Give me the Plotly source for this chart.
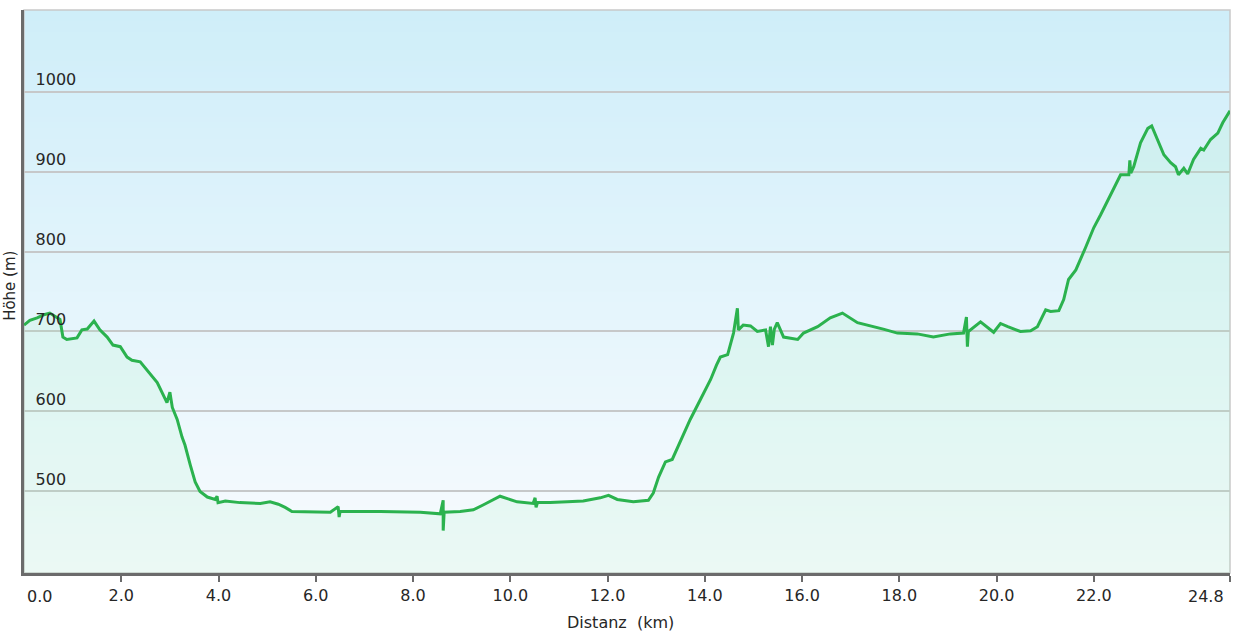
import plotly.graph_objects as go

distance_km = [
    0.00, 0.12, 0.27, 0.41, 0.53, 0.68, 0.74, 0.80, 0.88, 1.09, 1.19, 1.30, 1.44, 1.56,
    1.71, 1.83, 1.98, 2.12, 2.22, 2.39, 2.53, 2.74, 2.94, 3.00, 3.05, 3.15, 3.25, 3.31,
    3.42, 3.52, 3.62, 3.77, 3.93, 3.97, 3.99, 4.14, 4.44, 4.86, 5.06, 5.23, 5.37, 5.51,
    6.30, 6.46, 6.48, 6.50, 7.33, 8.15, 8.56, 8.62, 8.62, 8.64, 8.97, 9.24, 9.44, 9.79,
    10.14, 10.47, 10.51, 10.53, 10.56, 10.82, 11.17, 11.50, 11.85, 12.02, 12.20, 12.53,
    12.84, 12.94, 13.05, 13.19, 13.33, 13.50, 13.70, 13.91, 14.12, 14.24, 14.32, 14.47,
    14.59, 14.67, 14.69, 14.79, 14.94, 15.08, 15.25, 15.31, 15.35, 15.39, 15.43, 15.49,
    15.62, 15.91, 16.03, 16.32, 16.58, 16.83, 17.14, 17.67, 17.96, 18.37, 18.70, 19.05,
    19.32, 19.38, 19.40, 19.42, 19.67, 19.94, 20.08, 20.23, 20.49, 20.70, 20.84, 21.01,
    21.11, 21.28, 21.38, 21.48, 21.63, 21.83, 22.00, 22.14, 22.30, 22.45, 22.55, 22.72,
    22.74, 22.76, 22.82, 22.96, 23.11, 23.19, 23.31, 23.44, 23.58, 23.68, 23.74, 23.85,
    23.93, 24.05, 24.20, 24.26, 24.40, 24.55, 24.65, 24.77, 24.80,
]
elevation_m = [
    708, 714, 717, 721, 723, 717, 715, 693, 690, 692, 702, 703, 713, 702,
    693, 683, 681, 668, 664, 662, 652, 636, 611, 624, 605, 590, 568, 558,
    533, 512, 500, 493, 490, 494, 486, 488, 486, 485, 487, 484, 480, 475,
    474, 481, 468, 475, 475, 474, 472, 489, 451, 474, 475, 477, 483, 494,
    487, 485, 492, 480, 486, 486, 487, 488, 492, 495, 490, 487,
    489, 498, 518, 537, 540, 564, 590, 615, 640, 658, 668, 671,
    698, 729, 702, 708, 707, 700, 702, 681, 706, 683, 703, 711,
    693, 690, 698, 706, 717, 723, 711, 703, 698, 697, 693, 697,
    698, 718, 681, 700, 712, 699, 710, 706, 700, 701, 706, 727,
    725, 726, 740, 765, 777, 805, 830, 846, 865, 883, 896, 896,
    914, 898, 906, 936, 954, 957, 940, 921, 911, 906, 896, 904,
    897, 915, 929, 927, 940, 948, 961, 974, 976,
]

x_tick_vals = [0, 2, 4, 6, 8, 10, 12, 14, 16, 18, 20, 22, 24.8]
x_tick_text = ["", "2.0", "4.0", "6.0", "8.0", "10.0", "12.0", "14.0", "16.0",
               "18.0", "20.0", "22.0", ""]
y_tick_vals = [500, 600, 700, 800, 900, 1000]
x_range = [0, 24.8]
y_range = [398, 1102]

FONT = "DejaVu Sans, Verdana, sans-serif"
TXT = "#262626"

fig = go.Figure()
fig.add_trace(go.Scatter(
    x=distance_km, y=elevation_m, mode="lines",
    line=dict(color="#2bb24e", width=3),
    fill="tozeroy", fillcolor="rgba(150,240,175,0.13)",
    hoverinfo="x+y", showlegend=False,
))

# vertical background gradient (light blue -> near white)
shapes = []
n = 100
top = (207, 238, 249)
bot = (248, 251, 254)
for i in range(n):
    t = i / (n - 1)
    c = tuple(round(top[k] + (bot[k] - top[k]) * t) for k in range(3))
    shapes.append(dict(type="rect", xref="paper", yref="paper",
                       x0=0, x1=1, y0=max(0, 1 - (i + 1.8) / n), y1=1 - i / n,
                       fillcolor="rgb(%d,%d,%d)" % c, line=dict(width=0),
                       layer="below"))
shapes.append(dict(type="rect", xref="paper", yref="paper", x0=0, x1=1, y0=0, y1=1,
                   line=dict(color="#c9c9c9", width=1.5), fillcolor="rgba(0,0,0,0)",
                   layer="below"))

fig.update_layout(
    width=1239, height=635,
    margin=dict(l=24, r=9, t=10, b=62),
    paper_bgcolor="white", plot_bgcolor="rgba(0,0,0,0)",
    shapes=shapes,
    font=dict(family=FONT, size=16, color=TXT),
    xaxis=dict(range=x_range, tickvals=x_tick_vals, ticktext=x_tick_text,
               showgrid=False, zeroline=False, showline=True, linecolor="#6b6b6b",
               linewidth=2.5, ticks="outside", ticklen=6, tickwidth=2, tickcolor="#6b6b6b",
               tickfont=dict(family=FONT, size=16, color=TXT)),
    yaxis=dict(range=y_range, tickvals=y_tick_vals, showgrid=True, gridcolor="#c6c8c9",
               gridwidth=1.5, zeroline=False, showline=True, linecolor="#6b6b6b",
               linewidth=2.5, ticks="", ticklabelposition="inside",
               ticklabelstandoff=12, ticklabelshift=-12,
               tickfont=dict(family=FONT, size=16, color=TXT)),
    annotations=[
        dict(text="0.0", xref="x", yref="paper", x=0, y=0, yshift=-23,
             xanchor="left", yanchor="middle", showarrow=False, xshift=1,
             font=dict(family=FONT, size=16, color=TXT)),
        dict(text="24.8", xref="x", yref="paper", x=24.8, y=0, yshift=-23,
             xanchor="right", yanchor="middle", showarrow=False, xshift=-4,
             font=dict(family=FONT, size=16, color=TXT)),
        dict(text="Distanz\u00a0\u00a0(km)", xref="paper", yref="paper", x=0.495, y=0,
             yshift=-49, xanchor="center", yanchor="middle", showarrow=False,
             font=dict(family=FONT, size=16, color=TXT)),
        dict(text="Höhe (m)", xref="paper", yref="paper", x=0, y=0.51, xshift=-14,
             xanchor="center", yanchor="middle", textangle=-90, showarrow=False,
             font=dict(family=FONT, size=15, color=TXT)),
    ],
)

fig.write_html("out.html", config={"displayModeBar": False},
               post_script="document.body.style.margin='0';document.body.style.padding='0';")
